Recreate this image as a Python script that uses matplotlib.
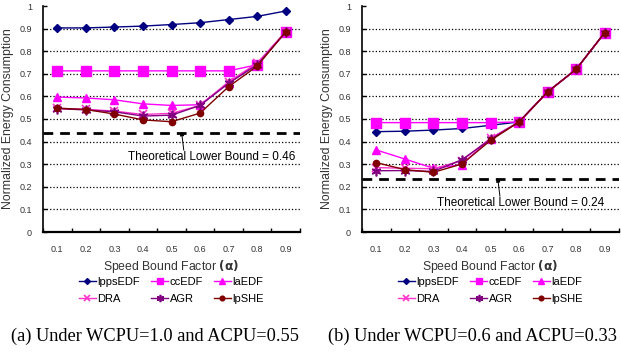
import matplotlib.pyplot as plt
import numpy as np

# speed bound factor categories
alpha = ['0.1', '0.2', '0.3', '0.4', '0.5', '0.6', '0.7', '0.8', '0.9']
names = ['lppsEDF', 'ccEDF', 'laEDF', 'DRA', 'AGR', 'lpSHE']

# (a) WCPU=1.0, ACPU=0.55
a_lppsEDF = [0.903, 0.903, 0.907, 0.911, 0.918, 0.926, 0.940, 0.954, 0.978]
a_ccEDF = [0.713, 0.713, 0.713, 0.713, 0.713, 0.713, 0.713, 0.740, 0.886]
a_laEDF = [0.597, 0.593, 0.585, 0.567, 0.560, 0.563, 0.660, 0.745, 0.886]
a_DRA = [0.547, 0.543, 0.535, 0.520, 0.525, 0.560, 0.665, 0.747, 0.886]
a_AGR = [0.546, 0.540, 0.532, 0.513, 0.517, 0.560, 0.658, 0.740, 0.884]
a_lpSHE = [0.548, 0.542, 0.522, 0.496, 0.488, 0.526, 0.643, 0.734, 0.886]
a_bound = 0.44

# (b) WCPU=0.6, ACPU=0.33
b_lppsEDF = [0.444, 0.446, 0.451, 0.458, 0.472, 0.487, 0.620, 0.720, 0.882]
b_ccEDF = [0.484, 0.484, 0.484, 0.484, 0.484, 0.487, 0.620, 0.720, 0.882]
b_laEDF = [0.363, 0.323, 0.282, 0.298, 0.413, 0.487, 0.620, 0.720, 0.882]
b_DRA = [0.285, 0.282, 0.280, 0.315, 0.415, 0.487, 0.620, 0.720, 0.882]
b_AGR = [0.271, 0.272, 0.268, 0.320, 0.410, 0.487, 0.620, 0.720, 0.882]
b_lpSHE = [0.307, 0.276, 0.264, 0.301, 0.405, 0.487, 0.620, 0.720, 0.882]
b_bound = 0.235

styles = {
    'lppsEDF': dict(color='#000080', marker='D', ms=4),
    'ccEDF': dict(color='#FF00FF', marker='s', ms=6.5),
    'laEDF': dict(color='#FF00FF', marker='^', ms=6),
    'DRA': dict(color='#FF33CC', marker='x', ms=6, mew=1.2),
    'AGR': dict(color='#800080', marker=(6, 2, 0), ms=7, mew=1.2),
    'lpSHE': dict(color='#800000', marker='o', ms=4.5),
}

plt.rcParams['font.family'] = ['Liberation Sans', 'DejaVu Sans']

W, H = 621, 352
fig = plt.figure(figsize=(W / 100, H / 100), dpi=100)


def panel(left, series, bound, label, text_xy, arrow_x, caption, cap_x):
    ax = fig.add_axes([left / W, (H - 232) / H, 257 / W, 226 / H])
    x = np.arange(len(alpha))
    handles = {}
    for n, vals in zip(names, series):
        st = styles[n]
        h, = ax.plot(x, vals, lw=1, color=st['color'], marker=st['marker'],
                     ms=st['ms'], mew=st.get('mew', 1), label=n)
        handles[n] = h
    ax.axhline(bound, color='black', lw=2, ls=(0, (3.5, 2.5)))
    ax.annotate('', xy=(arrow_x, bound + 0.005), xytext=(arrow_x + 0.08, text_xy[1] + 0.03),
                arrowprops=dict(arrowstyle='-|>', color='black', lw=0.7,
                                mutation_scale=6, shrinkA=0, shrinkB=0))
    ax.text(text_xy[0], text_xy[1], label, ha='center', va='center', fontsize=8.5)

    ax.set_xlim(-0.5, len(alpha) - 0.5)
    ax.set_ylim(0, 1)
    ax.set_xticks(x)
    ax.set_xticklabels(alpha)
    ax.set_xticks(np.arange(-0.5, len(alpha)), minor=True)
    ax.tick_params(axis='x', which='major', length=0, pad=9, labelsize=6.5, labelcolor='#333333')
    ax.tick_params(axis='x', which='minor', direction='in', length=3, width=1)
    ax.set_yticks(np.arange(0, 1.01, 0.1))
    ax.set_yticklabels(['0'] + ['%.1f' % v for v in np.arange(0.1, 0.95, 0.1)] + ['1'])
    ax.tick_params(axis='y', direction='in', length=3, width=1, labelsize=6.5,
                   labelcolor='#333333', pad=8)
    ax.yaxis.grid(True, linestyle=':', color='black', lw=0.9)
    gl = ax.get_ygridlines()
    gl[0].set_visible(False)
    gl[-1].set_visible(False)
    ax.set_axisbelow(True)
    for s in ['top', 'right']:
        ax.spines[s].set_visible(False)
    ax.spines['left'].set_linewidth(1.2)
    ax.spines['bottom'].set_linewidth(1.6)

    ax.set_xlabel(r'Speed Bound Factor $\mathbf{(\alpha)}$', fontsize=8.8, color='#333333', labelpad=3)
    ax.set_ylabel('Normalized Energy Consumption', fontsize=8.8, color='#333333', labelpad=4)

    order = ['lppsEDF', 'DRA', 'ccEDF', 'AGR', 'laEDF', 'lpSHE']
    ax.legend([handles[n] for n in order], order, ncol=3, loc='upper center',
              bbox_to_anchor=(0.5, -0.165), frameon=False, fontsize=8,
              handlelength=1.5, handletextpad=0.15, columnspacing=1.0,
              labelspacing=0.6, markerscale=0.75, borderpad=0.2)
    fig.text(cap_x / W, 1 - 336 / H, caption, ha='center', va='center',
             fontsize=13.2, family='Liberation Serif')
    return ax


panel(43, [a_lppsEDF, a_ccEDF, a_laEDF, a_DRA, a_AGR, a_lpSHE], a_bound,
      'Theoretical Lower Bound = 0.46', (5.4, 0.332), 4.35,
      '(a) Under WCPU=1.0 and ACPU=0.55', 155)
panel(362, [b_lppsEDF, b_ccEDF, b_laEDF, b_DRA, b_AGR, b_lpSHE], b_bound,
      'Theoretical Lower Bound = 0.24', (5.05, 0.128), 4.25,
      '(b) Under WCPU=0.6 and ACPU=0.33', 472)

fig.savefig('out.png', dpi=100)
